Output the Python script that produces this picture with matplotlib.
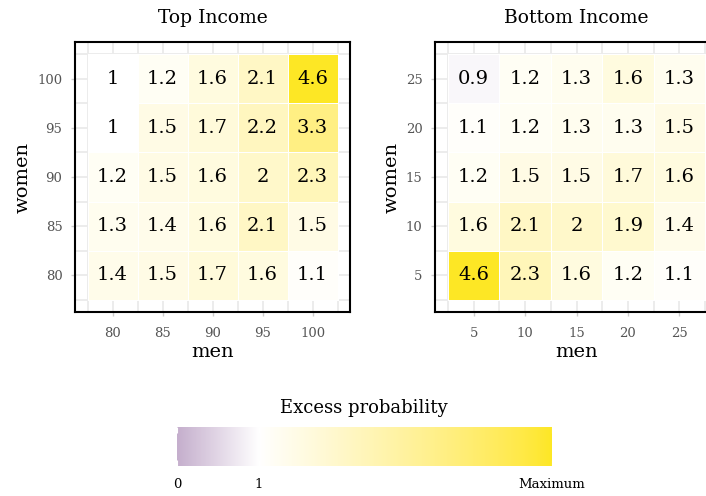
import numpy as np
import matplotlib
matplotlib.use("Agg")
import matplotlib.pyplot as plt
from matplotlib.colors import ListedColormap, Normalize, to_rgb

plt.rcParams['font.family'] = ['DejaVu Serif']

# data: rows = women (top to bottom), cols = men (left to right)
top_men = [80, 85, 90, 95, 100]
top_women = [100, 95, 90, 85, 80]
top_vals = [
    [1.0, 1.2, 1.6, 2.1, 4.6],
    [1.0, 1.5, 1.7, 2.2, 3.3],
    [1.2, 1.5, 1.6, 2.0, 2.3],
    [1.3, 1.4, 1.6, 2.1, 1.5],
    [1.4, 1.5, 1.7, 1.6, 1.1],
]

bot_men = [5, 10, 15, 20, 25]
bot_women = [25, 20, 15, 10, 5]
bot_vals = [
    [0.9, 1.2, 1.3, 1.6, 1.3],
    [1.1, 1.2, 1.3, 1.3, 1.5],
    [1.2, 1.5, 1.5, 1.7, 1.6],
    [1.6, 2.1, 2.0, 1.9, 1.4],
    [4.6, 2.3, 1.6, 1.2, 1.1],
]

vmax = max(np.max(top_vals), np.max(bot_vals))


# gradient is interpolated in Lab space (like ggplot's gradientn)
def rgb2lab(c):
    c = np.array(to_rgb(c))
    c = np.where(c > 0.04045, ((c + 0.055) / 1.055) ** 2.4, c / 12.92)
    M = np.array([[0.4124, 0.3576, 0.1805],
                  [0.2126, 0.7152, 0.0722],
                  [0.0193, 0.1192, 0.9505]])
    xyz = M @ c / np.array([0.95047, 1.0, 1.08883])
    f = np.where(xyz > 0.008856, np.cbrt(xyz), 7.787 * xyz + 16 / 116)
    return np.array([116 * f[1] - 16, 500 * (f[0] - f[1]), 200 * (f[1] - f[2])])


def lab2rgb(lab):
    L, a, b = lab
    fy = (L + 16) / 116
    f = np.array([fy + a / 500, fy, fy - b / 200])
    xyz = np.where(f ** 3 > 0.008856, f ** 3, (f - 16 / 116) / 7.787)
    xyz = xyz * np.array([0.95047, 1.0, 1.08883])
    Minv = np.array([[3.2406, -1.5372, -0.4986],
                     [-0.9689, 1.8758, 0.0415],
                     [0.0557, -0.2040, 1.0570]])
    c = Minv @ xyz
    c = np.where(c > 0.0031308, 1.055 * np.clip(c, 0, None) ** (1 / 2.4) - 0.055, 12.92 * c)
    return np.clip(c, 0, 1)


stops = [0, 1 / vmax, 1]
stop_cols = [rgb2lab("#c5afcd"), rgb2lab("#ffffff"), rgb2lab("#fde725")]
grid = np.linspace(0, 1, 512)
colors = []
for t in grid:
    k = 0 if t <= stops[1] else 1
    u = (t - stops[k]) / (stops[k + 1] - stops[k])
    colors.append(lab2rgb(stop_cols[k] * (1 - u) + stop_cols[k + 1] * u))
cmap = ListedColormap(colors)
norm = Normalize(0, vmax)

W, H = 706, 496
fig = plt.figure(figsize=(W / 100, H / 100), dpi=100)


def px_axes(x0, y0, x1, y1):
    return fig.add_axes([x0 / W, 1 - y1 / H, (x1 - x0) / W, (y1 - y0) / H])


def panel(ax, men, women, vals, title):
    men = np.array(men, dtype=float)
    women = np.array(women, dtype=float)
    step = men[1] - men[0]
    xe = np.append(men - step / 2, men[-1] + step / 2)
    ws = np.sort(women)
    ye = np.append(ws - step / 2, ws[-1] + step / 2)
    v = np.array(vals)[::-1]  # rows ascending women
    ax.pcolormesh(xe, ye, v, cmap=cmap, norm=norm,
                  edgecolor="white", linewidth=0.7, zorder=2)
    for i, w in enumerate(women):
        for j, m in enumerate(men):
            ax.text(m, w, f"{vals[i][j]:g}", ha="center", va="center",
                    fontsize=14, color="black", zorder=3)
    pad = (xe[-1] - xe[0]) * 0.05
    ax.set_xlim(xe[0] - pad, xe[-1] + pad)
    ax.set_ylim(ye[0] - pad, ye[-1] + pad)
    ax.set_xticks(men)
    ax.set_yticks(ws)
    ax.set_xticklabels([f"{int(m)}" for m in men])
    ax.set_yticklabels([f"{int(w)}" for w in ws])
    ax.set_xticks(xe, minor=True)
    ax.set_yticks(ye, minor=True)
    ax.grid(which="both", color="#ebebeb", linewidth=1.3, zorder=0)
    ax.set_axisbelow(True)
    ax.tick_params(which="major", length=3, width=1, color="#cccccc",
                   labelcolor="#555555", labelsize=9.5)
    ax.tick_params(axis="x", which="major", pad=8)
    ax.tick_params(axis="y", which="major", pad=6)
    ax.tick_params(which="minor", length=0)
    for s in ax.spines.values():
        s.set_linewidth(1.5)
        s.set_color("black")
    ax.set_xlabel("men", fontsize=14, labelpad=2)
    ax.set_ylabel("women", fontsize=14, labelpad=4)
    ax.set_title(title, fontsize=13.5, pad=14)


ax1 = px_axes(75, 42, 350, 312)
panel(ax1, top_men, top_women, top_vals, "Top Income")

ax2 = px_axes(435, 42, 718, 312)
panel(ax2, bot_men, bot_women, bot_vals, "Bottom Income")

# legend colour bar drawn as a gradient image
cax = px_axes(177, 427, 552, 466)
gradient = np.linspace(0, vmax, 600)[None, :]
cax.imshow(gradient, extent=[0, vmax, 0, 1], aspect="auto",
           cmap=cmap, norm=norm, interpolation="bilinear")
cax.set_xlim(0, vmax)
cax.set_ylim(0, 1)
cax.set_yticks([])
cax.set_xticks([0, 1, vmax])
cax.set_xticklabels(["0", "1", "Maximum"])
cax.tick_params(axis="x", direction="in", length=4, width=0.8,
                color="white", labelsize=9.5, pad=9, top=True)
for s in cax.spines.values():
    s.set_visible(False)
fig.text(364 / W, 1 - 408 / H, "Excess probability", ha="center",
         va="center", fontsize=13)

fig.savefig("out.png", dpi=100)
